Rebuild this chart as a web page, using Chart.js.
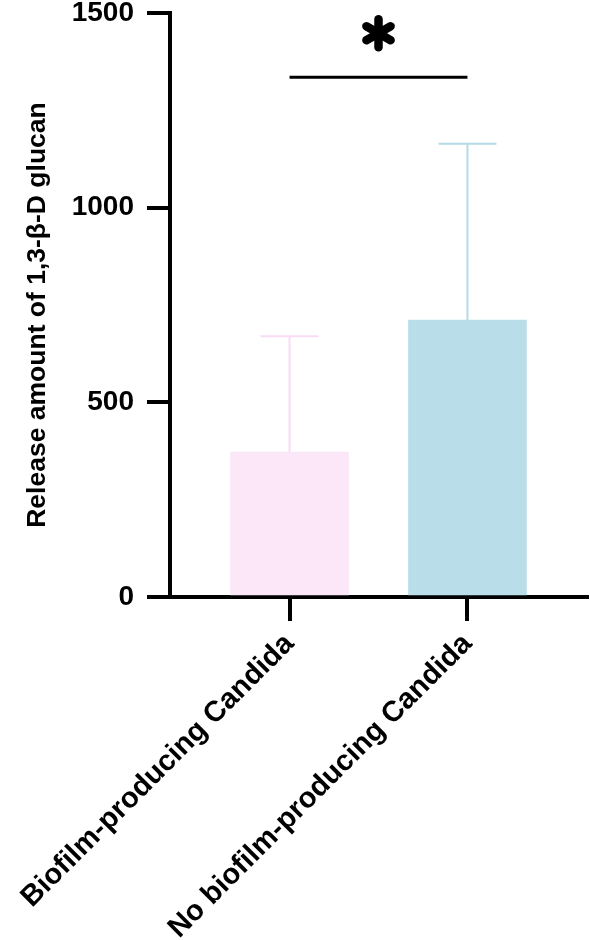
<!DOCTYPE html>
<html>
<head>
<meta charset="utf-8">
<script src="https://cdn.jsdelivr.net/npm/chart.js@4"></script>
<style>
html,body{margin:0;padding:0;background:#fff;}
#c{display:block;}
</style>
</head>
<body>
<canvas id="c" width="590" height="940"></canvas>
<script>
// ---- data ----
const categories = ["Biofilm-producing Candida", "No biofilm-producing Candida"];
const means = [372, 711];
const errors = [298, 453];
const barColors = ["#fce7f9", "#b9dee9"];
const errColors = ["#f8dcf5", "#b3dbe6"];
const yTicks = [0, 500, 1000, 1500];
const yTitle = "Release amount of 1,3-\u03B2-D glucan";
const sigLineValue = 1335;
const sigStarValue = 1448;

const FONT = "'Liberation Sans', Arial, Helvetica, sans-serif";

const errorBarPlugin = {
  id: 'errbars',
  afterDatasetsDraw(chart) {
    const ctx = chart.ctx, xs = chart.scales.x, ys = chart.scales.y;
    ctx.save();
    means.forEach((m, i) => {
      const x = xs.getPixelForValue(i);
      const yTop = ys.getPixelForValue(m);
      const yErr = ys.getPixelForValue(m + errors[i]);
      ctx.strokeStyle = errColors[i];
      ctx.lineWidth = 2;
      ctx.beginPath();
      ctx.moveTo(x, yTop);
      ctx.lineTo(x, yErr);
      ctx.moveTo(x - 29, yErr);
      ctx.lineTo(x + 29, yErr);
      ctx.stroke();
    });
    // significance bracket
    const x0 = xs.getPixelForValue(0), x1 = xs.getPixelForValue(1);
    const yl = ys.getPixelForValue(sigLineValue);
    ctx.strokeStyle = '#000';
    ctx.lineWidth = 3;
    ctx.beginPath();
    ctx.moveTo(x0, yl);
    ctx.lineTo(x1, yl);
    ctx.stroke();
    // asterisk
    const cx = (x0 + x1) / 2, cy = ys.getPixelForValue(sigStarValue);
    ctx.lineWidth = 8.5;
    ctx.lineCap = 'round';
    const r = 14;
    [90, 30, 150].forEach(a => {
      const rad = a * Math.PI / 180;
      ctx.beginPath();
      ctx.moveTo(cx - r * Math.cos(rad), cy - r * Math.sin(rad));
      ctx.lineTo(cx + r * Math.cos(rad), cy + r * Math.sin(rad));
      ctx.stroke();
    });
    ctx.restore();
  }
};

function zeroPad(scale) {
  scale.paddingLeft = 0; scale.paddingRight = 0;
  scale.paddingTop = 0; scale.paddingBottom = 0;
}

new Chart(document.getElementById('c'), {
  type: 'bar',
  data: {
    datasets: [{
      data: means.map((v, i) => ({x: i, y: v})),
      backgroundColor: barColors,
      borderWidth: 0,
      barThickness: 118
    }]
  },
  options: {
    responsive: false,
    animation: false,
    devicePixelRatio: 1,
    layout: {padding: {top: 13, right: 3, left: 0, bottom: 0}},
    plugins: {legend: {display: false}, tooltip: {enabled: false}},
    scales: {
      x: {
        type: 'linear',
        min: -0.672,
        max: 1.672,
        offset: false,
        afterBuildTicks(scale) { scale.ticks = categories.map((c, i) => ({value: i})); },
        afterFit(scale) { scale.height = 343; zeroPad(scale); },
        grid: {offset: false, drawOnChartArea: false, drawTicks: true, tickLength: 24, lineWidth: 4, color: '#000'},
        border: {display: true, color: '#000', width: 4},
        ticks: {
          autoSkip: false,
          maxRotation: 45,
          minRotation: 45,
          padding: 6,
          color: '#000',
          font: {family: FONT, size: 29, weight: 'bold'},
          callback: (v) => categories[v]
        }
      },
      y: {
        min: 0,
        max: 1500,
        afterBuildTicks(scale) { scale.ticks = yTicks.map(v => ({value: v})); },
        afterFit(scale) { scale.width = 170; zeroPad(scale); },
        grid: {drawOnChartArea: false, drawTicks: true, tickLength: 23, lineWidth: 4, color: '#000'},
        border: {display: true, color: '#000', width: 4},
        ticks: {
          padding: 13,
          color: '#000',
          font: {family: FONT, size: 28, weight: 'bold'},
          callback: (v) => String(v)
        },
        title: {
          display: true,
          text: yTitle + "\u00A0\u00A0\u2009",
          color: '#000',
          padding: {top: 22, bottom: 0},
          font: {family: FONT, size: 26.5, weight: 'bold'}
        }
      }
    }
  },
  plugins: [errorBarPlugin]
});
</script>
</body>
</html>
